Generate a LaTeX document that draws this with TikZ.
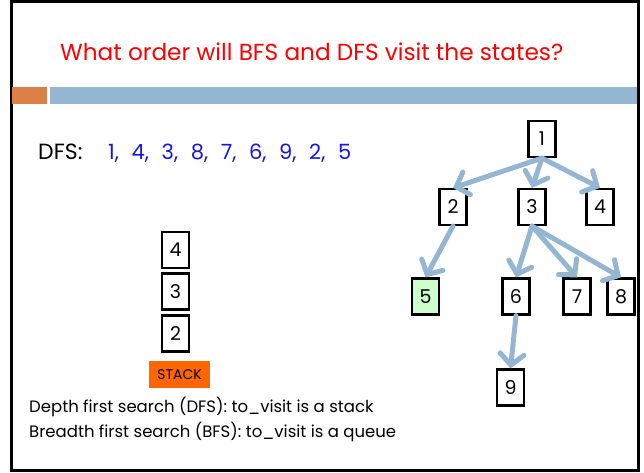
\documentclass[tikz,border=0pt]{standalone}
\usepackage{fontspec}
\setmainfont{Poppins}
\newfontfamily\seqfont{Poppins}[WordSpace=2.25]
\usetikzlibrary{arrows.meta,positioning}
\definecolor{barblue}{HTML}{94B6D2}
\definecolor{barorange}{HTML}{DD8047}
\definecolor{stackorange}{HTML}{FF6600}
\definecolor{seqblue}{HTML}{1414E6}
\definecolor{visitgreen}{HTML}{CCFFCC}

\begin{document}
\begin{tikzpicture}[x=1pt, y=-1pt,
  state/.style={draw, line width=2.2pt, minimum width=27pt, minimum height=36pt,
    inner sep=0pt, font=\fontsize{19}{19}\selectfont},
  edge/.style={draw=barblue, line width=5pt, line cap=round,
    -{Straight Barb[length=11pt, width=24pt, line cap=round]}}
]
  \useasboundingbox (0,0) rectangle (644,472);

  % Slide frame and header bars
  \draw[line width=3pt] (11,1.5) rectangle (638.5,470.5);
  \fill[barorange] (12,87) rectangle (47,104);
  \fill[barblue] (50,87) rectangle (637,104);

  % Title
  \node[anchor=base west, inner sep=0pt, text=red, font=\fontsize{23.2}{24}\selectfont]
    (title) at (60,60) {What order will BFS and DFS visit the states?};

  % DFS order
  \node[anchor=base west, inner sep=0pt, font=\fontsize{22}{22}\selectfont]
    (dfs) at (38,159) {DFS:};
  \node[anchor=base west, inner sep=0pt, text=seqblue,
    font=\seqfont\fontsize{21}{21}\selectfont]
    (order) at (108,159) {1, 4, 3, 8, 7, 6, 9, 2, 5};

  % Stack
  \node[state] (s4) at (175.5,250) {4};
  \node[state] (s3) at (175.5,291.5) {3};
  \node[state] (s2) at (175.5,333.5) {2};
  \node[fill=stackorange, minimum width=61pt, minimum height=27pt, inner sep=0pt,
    font=\fontsize{14}{14}\selectfont] (stack) at (179.5,374.5) {STACK};

  % Notes
  \node[anchor=base west, inner sep=0pt, font=\fontsize{16.5}{16.5}\selectfont]
    (note1) at (29,412) {Depth first search (DFS): to\_visit is a stack};
  \node[anchor=base west, inner sep=0pt, font=\fontsize{16.5}{16.5}\selectfont]
    (note2) at (29,437) {Breadth first search (BFS): to\_visit is a queue};

  % Search tree
  \node[state] (n1) at (542,139) {1};
  \node[state] (n2) at (453,207) {2};
  \node[state] (n3) at (532,207) {3};
  \node[state] (n4) at (600,207) {4};
  \node[state, fill=visitgreen] (n5) at (425.5,296.5) {5};
  \node[state] (n6) at (516,296.5) {6};
  \node[state] (n7) at (577,296.5) {7};
  \node[state] (n8) at (621,296.5) {8};
  \node[state] (n9) at (510.5,387.5) {9};

  \draw[edge] (n1.south) -- (n2.north);
  \draw[edge] (n1.south) -- (n3.north);
  \draw[edge] (n1.south) -- (n4.north);
  \draw[edge] (n2.south) -- (n5.north);
  \draw[edge] (n3.south) -- (n6.north);
  \draw[edge] (n3.south) -- (n7.north);
  \draw[edge] (n3.south) -- (n8.north);
  \draw[edge] (n6.south) -- (n9.north);
\end{tikzpicture}
\end{document}
